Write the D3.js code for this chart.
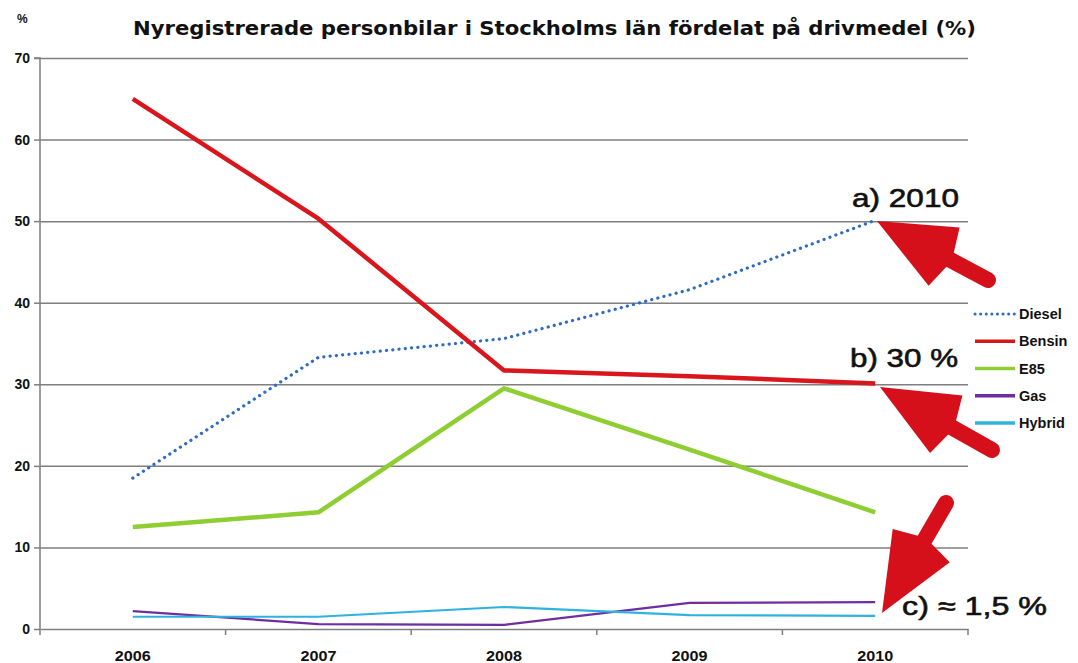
<!DOCTYPE html>
<html><head><meta charset="utf-8">
<script src="https://cdn.jsdelivr.net/npm/d3@7"></script>
<style>
html,body{margin:0;padding:0;background:#fff;}
svg{display:block;}
</style></head>
<body>
<svg id="chart" width="1078" height="663"></svg>
<script>
const years = ["2006","2007","2008","2009","2010"];
const yTicks = [0,10,20,30,40,50,60,70];
const seriesNames = ["Diesel","Bensin","E85","Gas","Hybrid"];
const diesel = [18.5, 33.3, 35.6, 41.6, 50.1];
const bensin = [65.0, 50.3, 31.7, 31.0, 30.1];
const e85    = [12.5, 14.3, 29.5, 22.0, 14.3];
const gas    = [2.2, 0.6, 0.5, 3.2, 3.3];
const hybrid = [1.5, 1.5, 2.7, 1.7, 1.6];
const title = "Nyregistrerade personbilar i Stockholms län fördelat på drivmedel (%)";
const notes = ["a) 2010", "b) 30 %", "c) ≈ 1,5 %"];

const series = [
  {name:"Diesel", values:diesel, color:"#2f6bc4", width:3.2, dash:"0.1 6.2"},
  {name:"Bensin", values:bensin, color:"#d8161c", width:4.5, dash:null},
  {name:"E85",    values:e85,    color:"#8fce33", width:4.5, dash:null},
  {name:"Gas",    values:gas,    color:"#6f2da0", width:2.2, dash:null},
  {name:"Hybrid", values:hybrid, color:"#2fb3de", width:2.2, dash:null}
];

const svg = d3.select("#chart");
const L = 40, R = 968, T = 58, B = 629;
const x = d3.scaleBand().domain(years).range([L, R]).padding(0);
const xc = d => x(d) + x.bandwidth()/2;
const y = d3.scaleLinear().domain([0,70]).range([B, T]);
const font = "'Liberation Sans', Arial, sans-serif";

// gridlines
svg.append("g").attr("transform", `translate(${L},0)`)
  .call(d3.axisLeft(y).tickValues(yTicks.filter(v=>v>0)).tickSize(-(R-L)).tickFormat(""))
  .call(g => g.select(".domain").remove())
  .call(g => g.selectAll("line").attr("stroke","#7f7f7f").attr("stroke-width",1.5));

// y axis
svg.append("g").attr("transform", `translate(${L},0)`)
  .call(d3.axisLeft(y).tickValues(yTicks).tickSize(6).tickPadding(4))
  .call(g => g.select(".domain").attr("stroke","#7f7f7f").attr("stroke-width",1.5).attr("d", `M-6,${T}H0V${B}`))
  .call(g => g.selectAll("line").attr("stroke","#7f7f7f").attr("stroke-width",1.5))
  .call(g => g.selectAll("text").attr("font-family",font).attr("font-weight","bold")
      .attr("font-size",14).attr("fill","#111"));

// x axis
const xAxisG = svg.append("g").attr("transform", `translate(0,${B})`)
  .call(d3.axisBottom(x).tickSize(0).tickPadding(22))
  .call(g => g.select(".domain").attr("stroke","#7f7f7f").attr("stroke-width",1.5))
  .call(g => g.selectAll("text").attr("font-family",font).attr("font-weight","bold")
      .attr("font-size",14).attr("fill","#111")
      .attr("textLength", 36).attr("lengthAdjust","spacingAndGlyphs"));
// band-edge tick marks
const edges = years.map(d => x(d)).concat([R]);
svg.append("g").selectAll("line").data(edges).join("line")
  .attr("x1", d=>d).attr("x2", d=>d).attr("y1", B).attr("y2", B+6)
  .attr("stroke","#7f7f7f").attr("stroke-width",1.5);

// series lines
const line = d3.line().x((d,i)=>xc(years[i])).y(d=>y(d));
series.forEach(s => {
  svg.append("path").datum(s.values)
    .attr("d", line).attr("fill","none")
    .attr("stroke", s.color).attr("stroke-width", s.width)
    .attr("stroke-linecap", s.dash ? "round" : "butt")
    .attr("stroke-linejoin","round")
    .attr("stroke-dasharray", s.dash);
});

// title
svg.append("text").attr("x", 133).attr("y", 35).text(title)
  .attr("font-family","'DejaVu Sans', sans-serif").attr("font-weight","bold")
  .attr("font-size",19).attr("fill","#111")
  .attr("textLength", 843).attr("lengthAdjust","spacingAndGlyphs");
svg.append("text").attr("x", 17).attr("y", 23).text("%")
  .attr("font-family",font).attr("font-weight","bold").attr("font-size",12).attr("fill","#111");

// legend
const legY = d3.scalePoint().domain(seriesNames).range([314, 423]);
const leg = svg.append("g");
series.forEach(s => {
  const yy = legY(s.name);
  leg.append("line").attr("x1",975).attr("x2",1015).attr("y1",yy).attr("y2",yy)
    .attr("stroke", s.color).attr("stroke-width", s.dash ? 3 : 3.5)
    .attr("stroke-linecap", s.dash ? "round":"butt")
    .attr("stroke-dasharray", s.dash ? "0.1 5.5" : null);
  leg.append("text").attr("x",1019).attr("y",yy+5).text(s.name)
    .attr("font-family",font).attr("font-weight","bold").attr("font-size",14.5).attr("fill","#111");
});

// arrows
function arrow(tip, tail, headLen, headHalf, shaftW) {
  const dx = tip[0]-tail[0], dy = tip[1]-tail[1];
  const len = Math.hypot(dx,dy), ux = dx/len, uy = dy/len;
  const px = -uy, py = ux;
  const bx = tip[0]-ux*headLen, by = tip[1]-uy*headLen;
  const g = svg.append("g");
  g.append("line").attr("x1", tail[0]).attr("y1", tail[1])
    .attr("x2", bx+ux*4).attr("y2", by+uy*4)
    .attr("stroke","#d6101a").attr("stroke-width", shaftW).attr("stroke-linecap","round");
  g.append("path").attr("d", `M${tip[0]},${tip[1]}L${bx+px*headHalf},${by+py*headHalf}L${bx-ux*8+px*shaftW*0.2},${by-uy*8+py*shaftW*0.2}L${bx-ux*8-px*shaftW*0.2},${by-uy*8-py*shaftW*0.2}L${bx-px*headHalf},${by-py*headHalf}Z`)
    .attr("fill","#d6101a");
}
arrow([877,221],[988,280],76,33,16);
arrow([880,387],[992,450],76,33,16);
arrow([882,613],[946,503],78,33,16);

// annotations
const notePos = [[852,207,107],[850,367,108],[902,615,145]];
notes.forEach((t,i) => {
  svg.append("text").attr("x", notePos[i][0]).attr("y", notePos[i][1]).text(t)
    .attr("font-family",font).attr("font-size",26).attr("fill","#111")
    .attr("stroke","#111").attr("stroke-width",0.6)
    .attr("textLength", notePos[i][2]).attr("lengthAdjust","spacingAndGlyphs");
});
</script>
</body></html>
